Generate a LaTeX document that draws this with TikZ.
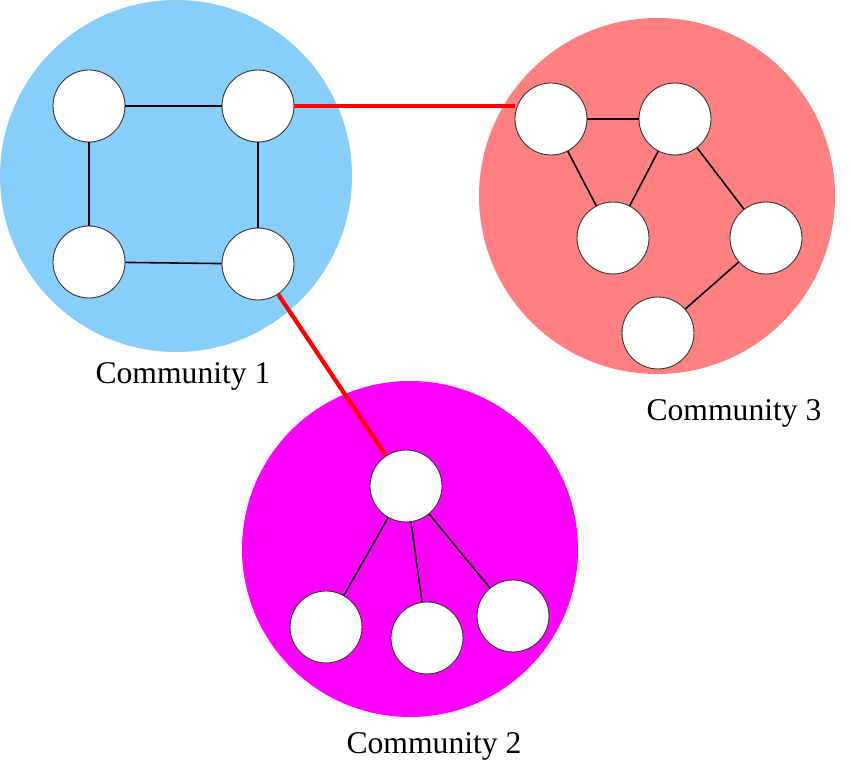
\documentclass[tikz,border=0pt]{standalone}
\usepackage{fontspec}
\setmainfont{Liberation Serif}
\usepackage{xcolor}
\definecolor{commblue}{RGB}{135,206,250}
\definecolor{commred}{RGB}{255,128,128}
\definecolor{commmagenta}{RGB}{255,0,255}

\begin{document}
\begin{tikzpicture}[x=0.02cm, y=-0.02cm,
    vertex/.style={circle, draw=black!80, fill=white, line width=0.5pt, minimum size=1.44cm, inner sep=0pt},
    edge/.style={line width=0.9pt, black},
    bridge/.style={line width=2.4pt, red},
    label/.style={font=\fontsize{18}{22}\selectfont}]
    \useasboundingbox (0,0) rectangle (850,763);
% Community areas
    \fill[commblue] (176,176) circle (176);
    \fill[commred] (657,196) circle (178);
    \fill[commmagenta] (410,549) circle (168);
% Community 1
    \node[vertex] (c1a) at (89,106) {};
    \node[vertex] (c1b) at (258,106) {};
    \node[vertex] (c1c) at (89,262) {};
    \node[vertex] (c1d) at (258,264) {};
    \draw[edge] (c1a) -- (c1b);
    \draw[edge] (c1a) -- (c1c);
    \draw[edge] (c1b) -- (c1d);
    \draw[edge] (c1c) -- (c1d);
    \node[label] (lab1) at (183,376) {Community 1};
% Community 3
    \node[vertex] (c3a) at (551,119) {};
    \node[vertex] (c3b) at (675,119) {};
    \node[vertex] (c3c) at (613,238) {};
    \node[vertex] (c3d) at (766,238) {};
    \node[vertex] (c3e) at (658,333) {};
    \draw[edge] (c3a) -- (c3b);
    \draw[edge] (c3a) -- (c3c);
    \draw[edge] (c3b) -- (c3c);
    \draw[edge] (c3b) -- (c3d);
    \draw[edge] (c3d) -- (c3e);
    \node[label] (lab3) at (734,413) {Community 3};
% Community 2
    \node[vertex] (c2a) at (406,486) {};
    \node[vertex] (c2b) at (326,627) {};
    \node[vertex] (c2c) at (427,638) {};
    \node[vertex] (c2d) at (513,616) {};
    \foreach \n in {c2b,c2c,c2d} {
        \draw[edge] (c2a) -- (\n);
    }
    \node[label] (lab2) at (434,746) {Community 2};
% Links between communities
    \draw[bridge] (c1b.east) -- (c1b.east -| c3a.west);
    \draw[bridge] (c1d) -- (c2a);
\end{tikzpicture}
\end{document}
